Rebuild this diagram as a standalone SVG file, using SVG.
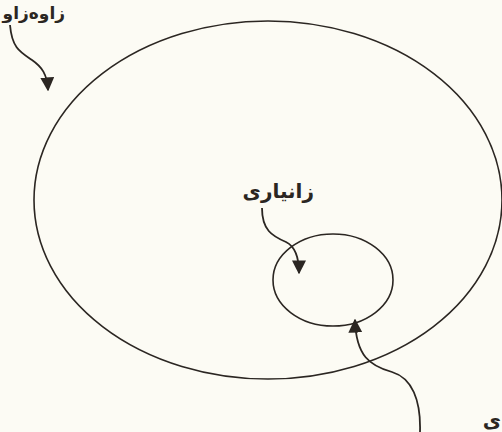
<svg xmlns="http://www.w3.org/2000/svg" width="502" height="432" viewBox="0 0 502 432">
<defs>
<style>
.shape{fill:none;stroke:#2b2622;stroke-width:1.6}
.conn{fill:none;stroke:#2b2622;stroke-width:1.8}
.lbl{font-family:"DejaVu Sans",sans-serif;font-size:20px;font-weight:bold;fill:#2b2622}
</style>
<marker id="ahb" viewBox="0 0 10 10" refX="9" refY="5" markerWidth="14" markerHeight="14" markerUnits="userSpaceOnUse" orient="auto">
<path d="M0,0 L10,5 L0,10 z" fill="#2b2622"/>
</marker>
</defs>
<rect width="502" height="432" fill="#fcfbf4"/>
<g id="outer">
<ellipse class="shape" cx="268" cy="200" rx="234" ry="179"/>
<text class="lbl" x="65" y="19" text-anchor="start" direction="rtl" style="font-size:17px">زاوەزاو</text>
</g>
<g id="inner">
<ellipse class="shape" cx="333" cy="280" rx="60" ry="46"/>
<text class="lbl" x="314" y="198" text-anchor="start" direction="rtl">زانیاری</text>
</g>
<g id="bottom-label">
<text class="lbl" x="501" y="427" text-anchor="start" direction="rtl">ی</text>
</g>
<g id="connectors">
<path class="conn" marker-end="url(#ahb)" d="M10,25 C12,48 20,52 32,60 C42,67 47,74 48,90"/>
<path class="conn" marker-end="url(#ahb)" d="M262,208 C262,230 272,236 286,242 C296,247 299,258 299,273"/>
<path class="conn" marker-end="url(#ahb)" d="M420,432 C421,400 412,378 392,372 C370,366 356,356 355,320"/>
</g>
</svg>
